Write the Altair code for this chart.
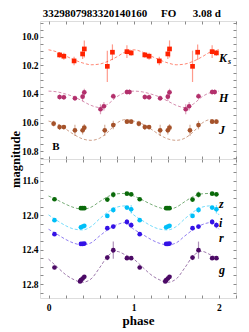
import altair as alt
import pandas as pd

# ---------------- data ----------------
title_text = "3329807983320140160\u00a0\u00a0\u00a0\u00a0\u00a0FO\u00a0\u00a0\u00a0\u00a0\u00a0\u00a03.08 d"
panel_tag = ["B"]

bands_top = ["Ks", "H", "J"]
bands_bot = ["z", "i", "r", "g"]
all_bands = bands_top + bands_bot
band_colors = {"Ks": "#ff2200", "H": "#b3306c", "J": "#a5522a",
               "z": "#0a6a0a", "i": "#00bff8", "r": "#3412e6", "g": "#4c0a66"}
band_shapes = {"Ks": "square", "H": "circle", "J": "circle",
               "z": "circle", "i": "circle", "r": "circle", "g": "circle"}

# model curves (one cycle, phase 0..1)
curve_phase = [0.0, 0.1, 0.2, 0.3, 0.4, 0.5, 0.6, 0.7, 0.8, 0.9, 1.0]
curve_Ks = [10.090, 10.105, 10.133, 10.160, 10.182, 10.195, 10.190, 10.170, 10.140, 10.105, 10.090]
curve_H = [10.380, 10.385, 10.400, 10.420, 10.450, 10.480, 10.495, 10.470, 10.420, 10.390, 10.380]
curve_J = [10.590, 10.610, 10.645, 10.685, 10.715, 10.725, 10.710, 10.665, 10.605, 10.580, 10.590]
curve_z = [11.775, 11.820, 11.870, 11.910, 11.930, 11.905, 11.840, 11.780, 11.750, 11.745, 11.775]
curve_i = [11.995, 12.060, 12.120, 12.160, 12.170, 12.130, 12.040, 11.960, 11.905, 11.890, 11.995]
curve_r = [12.162, 12.220, 12.280, 12.325, 12.345, 12.320, 12.240, 12.165, 12.110, 12.085, 12.162]
curve_g = [12.510, 12.600, 12.690, 12.750, 12.780, 12.740, 12.610, 12.470, 12.420, 12.460, 12.510]

# observations (phase in [0,1), magnitude, error)
ph_Ks = [0.13, 0.18, 0.30, 0.40, 0.42, 0.69, 0.75, 0.92, 0.97]
mag_Ks = [10.126, 10.135, 10.168, 10.119, 10.084, 10.206, 10.107, 10.103, 10.112]
err_Ks = [0.020, 0.025, 0.030, 0.035, 0.060, 0.110, 0.055, 0.045, 0.020]

ph_H = [0.13, 0.18, 0.31, 0.40, 0.42, 0.61, 0.65, 0.76, 0.92, 0.95]
mag_H = [10.421, 10.423, 10.430, 10.419, 10.388, 10.507, 10.486, 10.416, 10.386, 10.386]
err_H = [0.020, 0.020, 0.020, 0.030, 0.025, 0.035, 0.030, 0.020, 0.020, 0.020]

ph_J = [0.06, 0.13, 0.18, 0.31, 0.40, 0.42, 0.66, 0.76, 0.92, 0.97]
mag_J = [10.608, 10.632, 10.632, 10.655, 10.655, 10.636, 10.655, 10.618, 10.594, 10.594]
err_J = [0.020, 0.020, 0.015, 0.040, 0.030, 0.025, 0.040, 0.030, 0.015, 0.015]

ph_z = [0.07, 0.38, 0.40, 0.42, 0.69, 0.76, 0.92, 0.97]
mag_z = [11.813, 11.917, 11.917, 11.917, 11.817, 11.759, 11.748, 11.755]
err_z = [0.015, 0.010, 0.010, 0.010, 0.020, 0.035, 0.015, 0.015]

ph_i = [0.07, 0.38, 0.40, 0.42, 0.69, 0.76, 0.92, 0.97]
mag_i = [12.057, 12.140, 12.130, 12.122, 12.007, 11.937, 11.910, 11.929]
err_i = [0.015, 0.015, 0.015, 0.015, 0.020, 0.035, 0.020, 0.050]

ph_r = [0.07, 0.38, 0.40, 0.42, 0.69, 0.76, 0.92, 0.97]
mag_r = [12.220, 12.333, 12.333, 12.329, 12.150, 12.131, 12.077, 12.115]
err_r = [0.015, 0.010, 0.010, 0.010, 0.020, 0.020, 0.035, 0.035]

ph_g = [0.07, 0.37, 0.38, 0.40, 0.42, 0.69, 0.76, 0.92, 0.97]
mag_g = [12.608, 12.770, 12.755, 12.736, 12.716, 12.492, 12.406, 12.499, 12.499]
err_g = [0.020, 0.015, 0.015, 0.015, 0.015, 0.030, 0.100, 0.015, 0.015]

curves = {"Ks": curve_Ks, "H": curve_H, "J": curve_J, "z": curve_z,
          "i": curve_i, "r": curve_r, "g": curve_g}
obs = {"Ks": (ph_Ks, mag_Ks, err_Ks), "H": (ph_H, mag_H, err_H), "J": (ph_J, mag_J, err_J),
       "z": (ph_z, mag_z, err_z), "i": (ph_i, mag_i, err_i), "r": (ph_r, mag_r, err_r),
       "g": (ph_g, mag_g, err_g)}


def curve_df(bands):
    rows = []
    for b in bands:
        vals = curves[b]
        for p, m in zip(curve_phase, vals):
            rows.append({"band": b, "phase": p, "mag": m, "cyc": 0})
        for p, m in zip(curve_phase[1:], vals[1:]):
            rows.append({"band": b, "phase": p + 1, "mag": m, "cyc": 1})
    return pd.DataFrame(rows)


def obs_df(bands):
    rows = []
    for b in bands:
        ph, mg, er = obs[b]
        for p, m, e in zip(ph, mg, er):
            for k in (0, 1):
                rows.append({"band": b, "phase": p + k, "mag": m, "lo": m - e, "hi": m + e})
    return pd.DataFrame(rows)


FONT = "Liberation Serif"
W = 196
AX_GRAY = "#8a8a8a"

color = alt.Color("band:N", scale=alt.Scale(domain=all_bands,
                                            range=[band_colors[b] for b in all_bands]),
                  legend=None)
shape = alt.Shape("band:N", scale=alt.Scale(domain=all_bands,
                                            range=[band_shapes[b] for b in all_bands]),
                  legend=None)


def panel(bands, ydom, yvals, ylab_expr, height, label_dy, left_title, bottom_labels):
    crv = curve_df(bands)
    pts = obs_df(bands)
    xs = alt.Scale(domain=[-0.1, 2.2], nice=False, zero=False)
    ys = alt.Scale(domain=ydom, reverse=True, nice=False, zero=False)
    xvals = [0, 0.2, 0.4, 0.6, 0.8, 1, 1.2, 1.4, 1.6, 1.8, 2, 2.2]

    common_ax = dict(domain=False, grid=False, tickColor=AX_GRAY, tickSize=3, offset=-3,
                     labelFont=FONT, labelFontWeight="bold", labelColor="black")

    left_axis = alt.Axis(orient="left", values=yvals, labelExpr=ylab_expr, labelFontSize=9.5,
                         labelPadding=2, title=left_title if left_title else None,
                         titleFont=FONT, titleFontSize=12.5, titleFontWeight="bold",
                         titleColor="black", titleY=height, titleX=-21,
                         titleBaseline="bottom", **common_ax)
    right_axis = alt.Axis(orient="right", values=yvals, labels=False, title=None, **common_ax)
    if bottom_labels:
        bottom_axis = alt.Axis(orient="bottom", values=xvals,
                               labelExpr="datum.value % 1 == 0 ? format(datum.value, 'd') : ''",
                               labelFontSize=9.5, labelPadding=4, title="phase",
                               titleFont=FONT, titleFontSize=13, titleFontWeight="bold",
                               titleColor="black", titlePadding=3, **common_ax)
    else:
        bottom_axis = alt.Axis(orient="bottom", values=xvals, labels=False, title=None, **common_ax)
    top_axis = alt.Axis(orient="top", values=xvals, labels=False, title=None, **common_ax)

    line = alt.Chart(crv).mark_line(strokeDash=[3, 2], strokeWidth=1, opacity=0.55,
                                    interpolate="monotone").encode(
        x=alt.X("phase:Q", scale=xs, axis=bottom_axis),
        y=alt.Y("mag:Q", scale=ys, axis=left_axis),
        color=color, order="phase:Q")

    bars = alt.Chart(pts).mark_rule(strokeWidth=1.2, opacity=0.45).encode(
        x=alt.X("phase:Q", scale=xs, axis=None),
        y=alt.Y("lo:Q", scale=ys, axis=None), y2="hi:Q", color=color)

    dots = alt.Chart(pts).mark_point(filled=True, size=22, opacity=1).encode(
        x=alt.X("phase:Q", scale=xs, axis=top_axis),
        y=alt.Y("mag:Q", scale=ys, axis=right_axis),
        color=color, shape=shape)

    labels = alt.Chart(crv).transform_filter("datum.cyc == 0").transform_aggregate(
        m="mean(mag)", groupby=["band"]).transform_calculate(
        lab="datum.band == 'Ks' ? 'K' : datum.band").mark_text(
        font=FONT, fontStyle="italic", fontWeight="bold", fontSize=12, align="left",
        baseline="middle", dy=label_dy, color="black").encode(
        x=alt.value(179), y=alt.Y("m:Q", scale=ys, axis=None), text="lab:N")

    layers = [line, bars, dots, labels]
    if "Ks" in bands:
        sub = alt.Chart(crv).transform_filter("datum.cyc == 0 && datum.band == 'Ks'").transform_aggregate(
            m="mean(mag)").transform_calculate(lab="'s'").mark_text(
            font=FONT, fontStyle="italic", fontWeight="bold", fontSize=8, align="left",
            baseline="middle", dx=9, dy=label_dy + 4, color="black").encode(
            x=alt.value(179), y=alt.Y("m:Q", scale=ys, axis=None), text="lab:N")
        tag = alt.Chart(pd.DataFrame({"t": panel_tag})).mark_text(
            font=FONT, fontWeight="bold", fontSize=11, color="black").encode(
            x=alt.value(16), y=alt.value(height - 12), text="t:N")
        layers += [sub, tag]

    return alt.layer(*layers).resolve_axis(x="independent", y="independent").properties(
        width=W, height=height)


top_vals = [round(9.9 + 0.05 * k, 2) for k in range(20)]
bot_vals = [round(11.4 + 0.1 * k, 1) for k in range(16)]

top = panel(bands_top, [9.888, 10.856], top_vals,
            "abs(datum.value * 5 - round(datum.value * 5)) < 0.001 ? format(datum.value, '.1f') : ''",
            138, 1, "magnitude", False)
bot = panel(bands_bot, [11.344, 12.963], bot_vals,
            "abs(datum.value * 2.5 - round(datum.value * 2.5)) < 0.001 ? format(datum.value, '.1f') : ''",
            139, 4, None, True)

chart = alt.vconcat(top, bot, spacing=0, bounds="flush").properties(
    title=alt.TitleParams(text=title_text, font=FONT, fontSize=11, fontWeight="bold",
                          color="black", anchor="middle", offset=1, dx=9),
    padding={"left": 0, "top": 0, "right": 2, "bottom": 0},
).configure_view(stroke=AX_GRAY, strokeWidth=1).configure(background="white")

chart.save("out.html", embed_options={"renderer": "svg", "actions": False})
